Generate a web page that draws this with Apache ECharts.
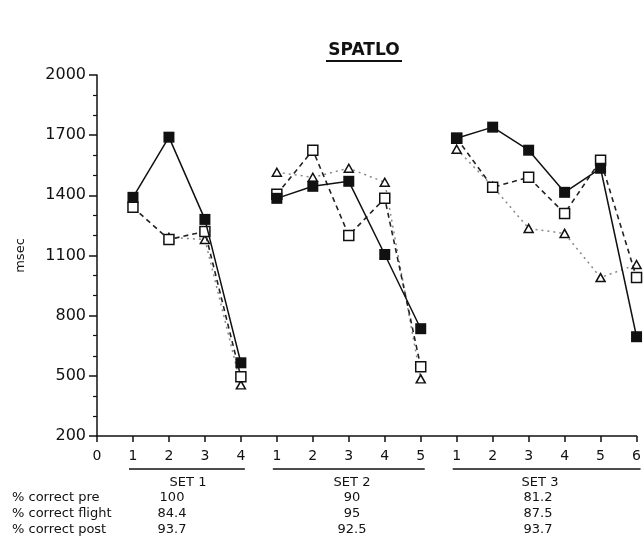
<!DOCTYPE html>
<html><head><meta charset="utf-8">
<script src="https://cdn.jsdelivr.net/npm/echarts@6/dist/echarts.min.js"></script>
<style>html,body{margin:0;padding:0;background:#fff}#c{width:644px;height:542px}</style>
</head><body><div id="c"></div>
<script>
// x tick labels (positions 0..15)
const xTickLabels = ['0','1','2','3','4','1','2','3','4','5','1','2','3','4','5','6'];
// sets: position ranges
const setNames = ['SET 1','SET 2','SET 3'];
const setStart = [1,5,10];
const setEnd = [4,9,15];
// values per position 1..15 (msec)
const filledVals = [1390,1690,1280,565, 1385,1445,1470,1105,735, 1685,1740,1625,1415,1535,695];
const openVals   = [1340,1180,1220,495, 1405,1625,1200,1385,545, 1685,1440,1490,1310,1575,990];
const triVals    = [null,1190,1180,455, 1515,1490,1535,1465,485, 1630,1445,1235,1210,990,1055];
// table
const rowLabels = ['% correct pre','% correct flight','% correct post'];
const pctPre    = ['100','90','81.2'];
const pctFlight = ['84.4','95','87.5'];
const pctPost   = ['93.7','92.5','93.7'];
const yTitle = 'msec';
const chartTitle = 'SPATLO';

const FONT = 'DejaVu Sans';
const chart = echarts.init(document.getElementById('c'), null, {renderer:'canvas'});

function seriesFor(vals, style, s){
  const data = [];
  for (let i = setStart[s]; i <= setEnd[s]; i++) {
    const v = vals[i-1];
    data.push([i, v === null ? '-' : v]);
  }
  return Object.assign({type:'line', data, connectNulls:false, animation:false, silent:true}, style(s));
}
const triStyle = () => ({
  symbol:'triangle', symbolSize:[9,8], z:2,
  lineStyle:{color:'#888', width:1.5, type:[2,4]},
  itemStyle:{color:'#fff', borderColor:'#111', borderWidth:1.5}
});
const openStyle = () => ({
  symbol:'rect', symbolSize:10, z:3,
  lineStyle:{color:'#222', width:1.6, type:[5,4]},
  itemStyle:{color:'#fff', borderColor:'#111', borderWidth:1.5}
});
const filledStyle = () => ({
  symbol:'rect', symbolSize:11, z:4,
  lineStyle:{color:'#111', width:1.5, type:'solid'},
  itemStyle:{color:'#111', borderColor:'#111', borderWidth:0}
});
const series = [];
for (let s = 0; s < 3; s++) series.push(seriesFor(triVals, triStyle, s));
for (let s = 0; s < 3; s++) series.push(seriesFor(openVals, openStyle, s));
for (let s = 0; s < 3; s++) series.push(seriesFor(filledVals, filledStyle, s));

chart.setOption({
  animation:false,
  backgroundColor:'#fff',
  grid:{left:97, right:3, top:75, bottom:106, containLabel:false},
  xAxis:{
    type:'value', min:0, max:15, interval:1,
    axisLine:{show:true, onZero:false, lineStyle:{color:'#111', width:1.5}},
    axisTick:{show:true, inside:false, length:6, lineStyle:{color:'#111', width:1.5}},
    axisLabel:{margin:13, fontFamily:FONT, fontSize:14, color:'#111',
      formatter:(v)=>xTickLabels[v] !== undefined ? xTickLabels[v] : ''},
    splitLine:{show:false}
  },
  yAxis:{
    type:'value', min:200, max:2000, interval:300,
    name:yTitle, nameLocation:'middle', nameGap:70, nameRotate:90,
    nameTextStyle:{fontFamily:FONT, fontSize:13, color:'#111'},
    axisLine:{show:true, lineStyle:{color:'#111', width:1.5}},
    axisTick:{show:true, length:8, lineStyle:{color:'#111', width:1.5}},
    minorTick:{show:true, splitNumber:3, length:4, lineStyle:{color:'#111', width:1.2}},
    axisLabel:{margin:11, fontFamily:FONT, fontSize:16, color:'#111', formatter:(v)=>String(v)},
    splitLine:{show:false}
  },
  series
});

// annotations
const g = [];
const titleX = 364;
g.push({type:'text', x:titleX, y:42, style:{text:chartTitle, fontFamily:FONT, fontWeight:'bold', fontSize:17, fill:'#111', align:'center', verticalAlign:'top'}});
g.push({type:'line', shape:{x1:titleX-38, y1:61, x2:titleX+38, y2:61}, style:{stroke:'#111', lineWidth:2}});
const px = (v)=>chart.convertToPixel({xAxisIndex:0}, v);
const setLabelX = [188, 352, 540];
const valueX = [172, 352, 538];
for (let s = 0; s < 3; s++) {
  const x1 = px(setStart[s]) - 4, x2 = Math.min(px(setEnd[s]) + 4, 644);
  g.push({type:'line', shape:{x1, y1:469, x2, y2:469}, style:{stroke:'#111', lineWidth:1.5}});
  g.push({type:'text', x:setLabelX[s], y:476, style:{text:setNames[s], fontFamily:FONT, fontSize:13, fill:'#111', align:'center', verticalAlign:'top'}});
  const vals = [pctPre[s], pctFlight[s], pctPost[s]];
  for (let r = 0; r < 3; r++) {
    g.push({type:'text', x:valueX[s], y:491 + r*16, style:{text:vals[r], fontFamily:FONT, fontSize:13, fill:'#111', align:'center', verticalAlign:'top'}});
  }
}
for (let r = 0; r < 3; r++) {
  g.push({type:'text', x:12, y:491 + r*16, style:{text:rowLabels[r], fontFamily:FONT, fontSize:13, fill:'#111', align:'left', verticalAlign:'top'}});
}
chart.setOption({graphic:g});
</script></body></html>
